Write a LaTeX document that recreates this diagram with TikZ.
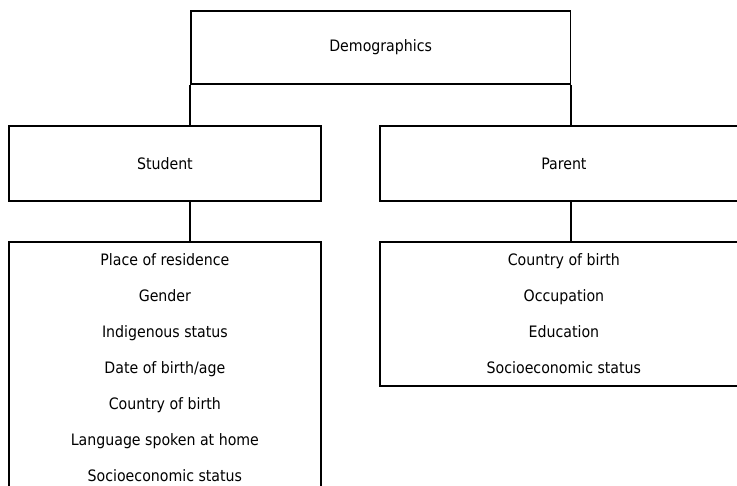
\documentclass[tikz,border=0pt]{standalone}
\usepackage{fontspec}
\setmainfont{DejaVu Sans Condensed}
\begin{document}
\begin{tikzpicture}[x=1bp,y=-1bp,
  box/.style={draw, line width=1.8bp, inner sep=0pt, anchor=north west,
    font=\fontsize{15.8}{36.2}\selectfont, align=center},
  link/.style={line width=1.8bp}]
\useasboundingbox (0,0) rectangle (737,486);
\clip (0,0) rectangle (737,486);
\node[box, minimum width=379.5bp, minimum height=73bp] (demo) at (190,10) {Demographics};
\node[box, minimum width=312bp, minimum height=75bp] (stud) at (8,125) {Student};
\node[box, minimum width=368bp, minimum height=75bp] (par) at (379,125) {Parent};
\node[box, minimum width=312bp, minimum height=251bp] (sdet) at (8,241)
  {Place of residence\\Gender\\Indigenous status\\Date of birth/age\\Country of birth\\Language spoken at home\\Socioeconomic status};
\node[box, minimum width=368bp, minimum height=144bp] (pdet) at (379,241)
  {Country of birth\\Occupation\\Education\\Socioeconomic status};
\draw[link] (demo.south west) -- (demo.south west |- stud.north);
\draw[link] (demo.south east) -- (demo.south east |- par.north);
\draw[link] (demo.south west |- stud.south) -- (demo.south west |- sdet.north);
\draw[link] (demo.south east |- par.south) -- (demo.south east |- pdet.north);
\end{tikzpicture}
\end{document}
